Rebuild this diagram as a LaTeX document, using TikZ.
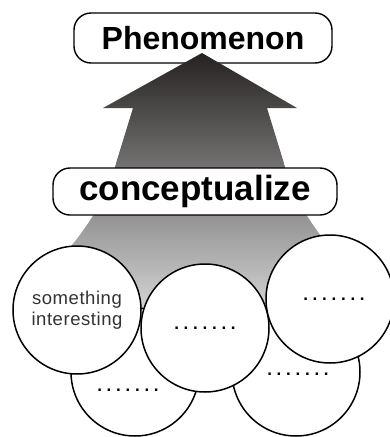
\documentclass[tikz,border=0pt]{standalone}
\usepackage{fontspec}
\setmainfont{Liberation Sans}

\definecolor{arrowtop}{HTML}{262222}
\definecolor{arrowmid}{HTML}{6A6A6A}
\definecolor{arrowbot}{HTML}{E2E2E2}
\definecolor{softtext}{HTML}{333333}

\begin{document}
\begin{tikzpicture}[x=1pt, y=-1pt,
  labelbox/.style={draw, line width=1.4pt, rounded corners=17pt, fill=white, inner sep=0pt},
  idea/.style={draw, circle, line width=1.5pt, fill=white, minimum size=128pt, inner sep=0pt},
  dotrow/.style={font=\fontsize{17}{17}\selectfont\bfseries\frenchspacing}]

\useasboundingbox (0,0) rectangle (390,437);

% Top box
\node[labelbox, minimum width=258pt, minimum height=50pt,
      font=\fontsize{32}{32}\selectfont\bfseries] (Phen) at (203,38) {Phenomenon};

% Shaded arrow going up
\shade[top color=arrowtop, middle color=arrowmid, bottom color=arrowbot]
  (202,53) -- (297,108) -- (267,108) -- (283,160)
  .. controls (290,185) and (300,215) .. (345,265) -- (345,330)
  -- (55,330) -- (55,265)
  .. controls (100,215) and (110,185) .. (117,160)
  -- (133,108) -- (103,108) -- cycle;

% Middle box
\node[labelbox, minimum width=284pt, minimum height=47pt,
      font=\fontsize{35}{35}\selectfont\bfseries] (Conc) at (195,191.5) {conceptualize};

% Circles in the back row
\node[idea] (CbotL) at (135,372) {};
\node[idea] (CbotR) at (296,372) {};
\node[dotrow] at (128,390) {. . . . . . .};
\node[dotrow] at (298,374) {. . . . . . .};

% Circles in the front row
\node[idea, align=center, text=softtext,
      font=\fontsize{18.5}{21}\selectfont\addfontfeature{LetterSpace=3}] (Cint) at (77,310) {something\\interesting};
\node[idea, dotrow] (Cmid) at (205,328) {. . . . . . .};
\node[idea] (Cright) at (330,299) {};
\node[dotrow] at (334,299) {. . . . . . .};

\end{tikzpicture}
\end{document}
